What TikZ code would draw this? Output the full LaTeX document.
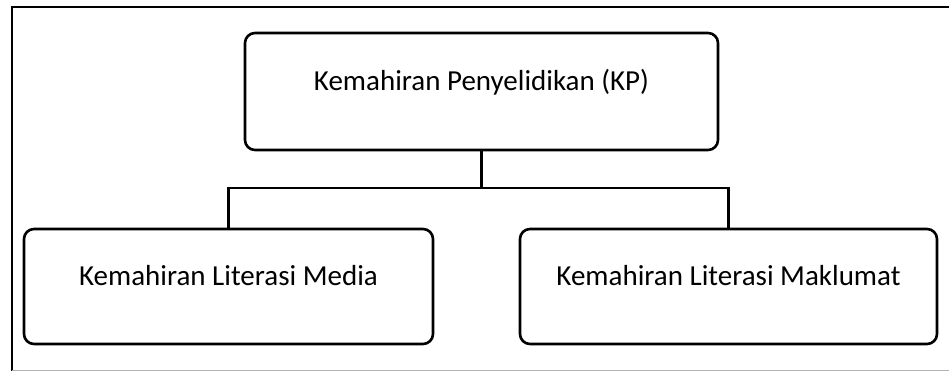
\documentclass[tikz,border=0pt]{standalone}
\usepackage{fontspec}
\setmainfont{Carlito}
\usepackage{tikz}
\usetikzlibrary{positioning}
\usetikzlibrary{calc}

\begin{document}
\begin{tikzpicture}[x=1pt,y=-1pt,line width=2.6pt,
  kotak/.style={rectangle,draw,rounded corners=10pt,minimum height=115pt,
    font=\fontsize{29}{34}\selectfont,text height=18pt,text depth=20pt,inner sep=0pt}]
\useasboundingbox (0,0) rectangle (949,371);
\node [kotak,minimum width=473pt,minimum height=117pt](kp) at (481.5,91.5) {Kemahiran Penyelidikan (KP)};
\node [kotak,minimum width=409pt](media) at (228.5,286.5) {Kemahiran Literasi Media};
\node [kotak,minimum width=417pt](maklumat) at (728.5,286.5) {Kemahiran Literasi Maklumat};
\coordinate (cabang) at (481.5,188);
\draw (kp.south) -- (cabang);
\draw (media.north) |- (cabang) -| (maklumat.north);
% bingkai luar
\draw (949,7) -- (12,7) -- (12,371);
\draw [gray!60,line width=1.2pt] (12,370.4) -- (949,370.4);
\end{tikzpicture}
\end{document}
